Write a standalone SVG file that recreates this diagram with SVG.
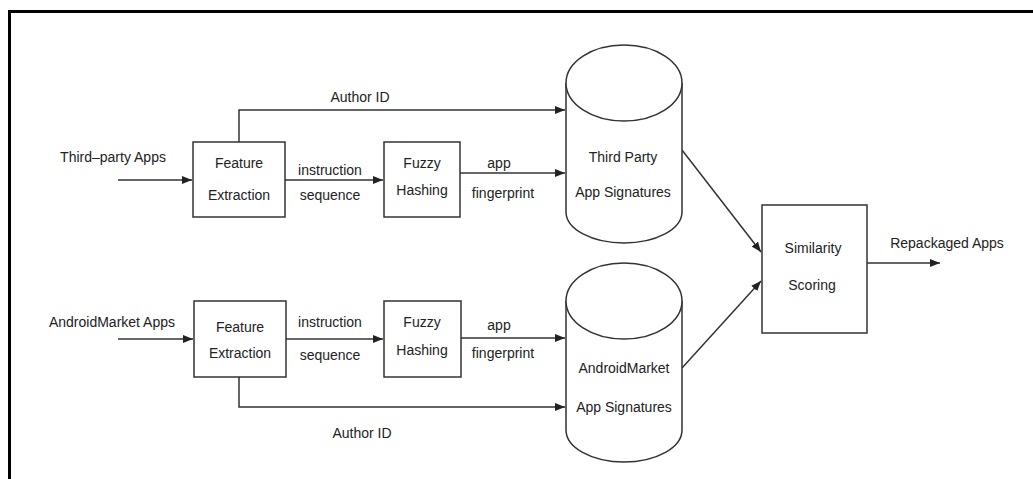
<svg xmlns="http://www.w3.org/2000/svg" width="1033" height="479" viewBox="0 0 1033 479">
<defs>
<style>
.t{font-family:"Liberation Sans",Arial,sans-serif;font-size:14px;fill:#222;text-anchor:middle}
.s{fill:none;stroke:#333;stroke-width:1.5}
.b{fill:#fff;stroke:#333;stroke-width:1.5}
</style>
<marker id="ah" viewBox="0 0 10 8" refX="10" refY="4" markerWidth="10" markerHeight="8" markerUnits="userSpaceOnUse" orient="auto">
<path d="M0,0 L10,4 L0,8 Z" fill="#222"/>
</marker>
</defs>
<rect width="1033" height="479" fill="#fff"/>
<path d="M9.5,479 V11.5 H1033" fill="none" stroke="#000" stroke-width="3"/>

<g id="connectors">
<path class="s" d="M118,180 H192" marker-end="url(#ah)"/>
<path class="s" d="M285,180 H383" marker-end="url(#ah)"/>
<path class="s" d="M460,173 H565" marker-end="url(#ah)"/>
<path class="s" d="M239,142 V110 H565" marker-end="url(#ah)"/>
<path class="s" d="M118,339 H193" marker-end="url(#ah)"/>
<path class="s" d="M286,339 H383" marker-end="url(#ah)"/>
<path class="s" d="M461,338 H565" marker-end="url(#ah)"/>
<path class="s" d="M239,377 V407 H565" marker-end="url(#ah)"/>
<path class="s" d="M682,150 L761,252" marker-end="url(#ah)"/>
<path class="s" d="M682,368 L761,281" marker-end="url(#ah)"/>
<path class="s" d="M867,263 H940" marker-end="url(#ah)"/>
<text class="t" x="360" y="102">Author ID</text>
<text class="t" x="330" y="175">instruction</text>
<text class="t" x="330" y="200">sequence</text>
<text class="t" x="499" y="168">app</text>
<text class="t" x="503" y="198">fingerprint</text>
<text class="t" x="330" y="327">instruction</text>
<text class="t" x="330" y="360">sequence</text>
<text class="t" x="499" y="330">app</text>
<text class="t" x="503" y="358">fingerprint</text>
<text class="t" x="362" y="438">Author ID</text>
<text class="t" x="113" y="162">Third–party Apps</text>
<text class="t" x="112" y="327">AndroidMarket Apps</text>
<text class="t" x="947" y="248">Repackaged Apps</text>
</g>

<g id="fe1">
<rect class="b" x="193" y="142" width="92" height="75"/>
<text class="t" x="239" y="168">Feature</text>
<text class="t" x="239" y="200">Extraction</text>
</g>
<g id="fh1">
<rect class="b" x="384" y="142" width="76" height="75"/>
<text class="t" x="422" y="168">Fuzzy</text>
<text class="t" x="422" y="195">Hashing</text>
</g>
<g id="db1">
<path class="b" d="M566,83 V212 A58,31 0 0 0 682,212 V83"/>
<ellipse class="b" cx="624" cy="83" rx="58" ry="38"/>
<text class="t" x="623" y="162">Third Party</text>
<text class="t" x="623" y="197">App Signatures</text>
</g>

<g id="fe2">
<rect class="b" x="194" y="301" width="92" height="76"/>
<text class="t" x="240" y="332">Feature</text>
<text class="t" x="240" y="358">Extraction</text>
</g>
<g id="fh2">
<rect class="b" x="384" y="301" width="77" height="76"/>
<text class="t" x="422" y="327">Fuzzy</text>
<text class="t" x="422" y="355">Hashing</text>
</g>
<g id="db2">
<path class="b" d="M566,301 V430 A58,32 0 0 0 682,430 V301"/>
<ellipse class="b" cx="624" cy="301" rx="58" ry="38"/>
<text class="t" x="624" y="373">AndroidMarket</text>
<text class="t" x="624" y="412">App Signatures</text>
</g>

<g id="sim">
<rect class="b" x="762" y="205" width="105" height="128"/>
<text class="t" x="813" y="253">Similarity</text>
<text class="t" x="812" y="290">Scoring</text>
</g>
</svg>
